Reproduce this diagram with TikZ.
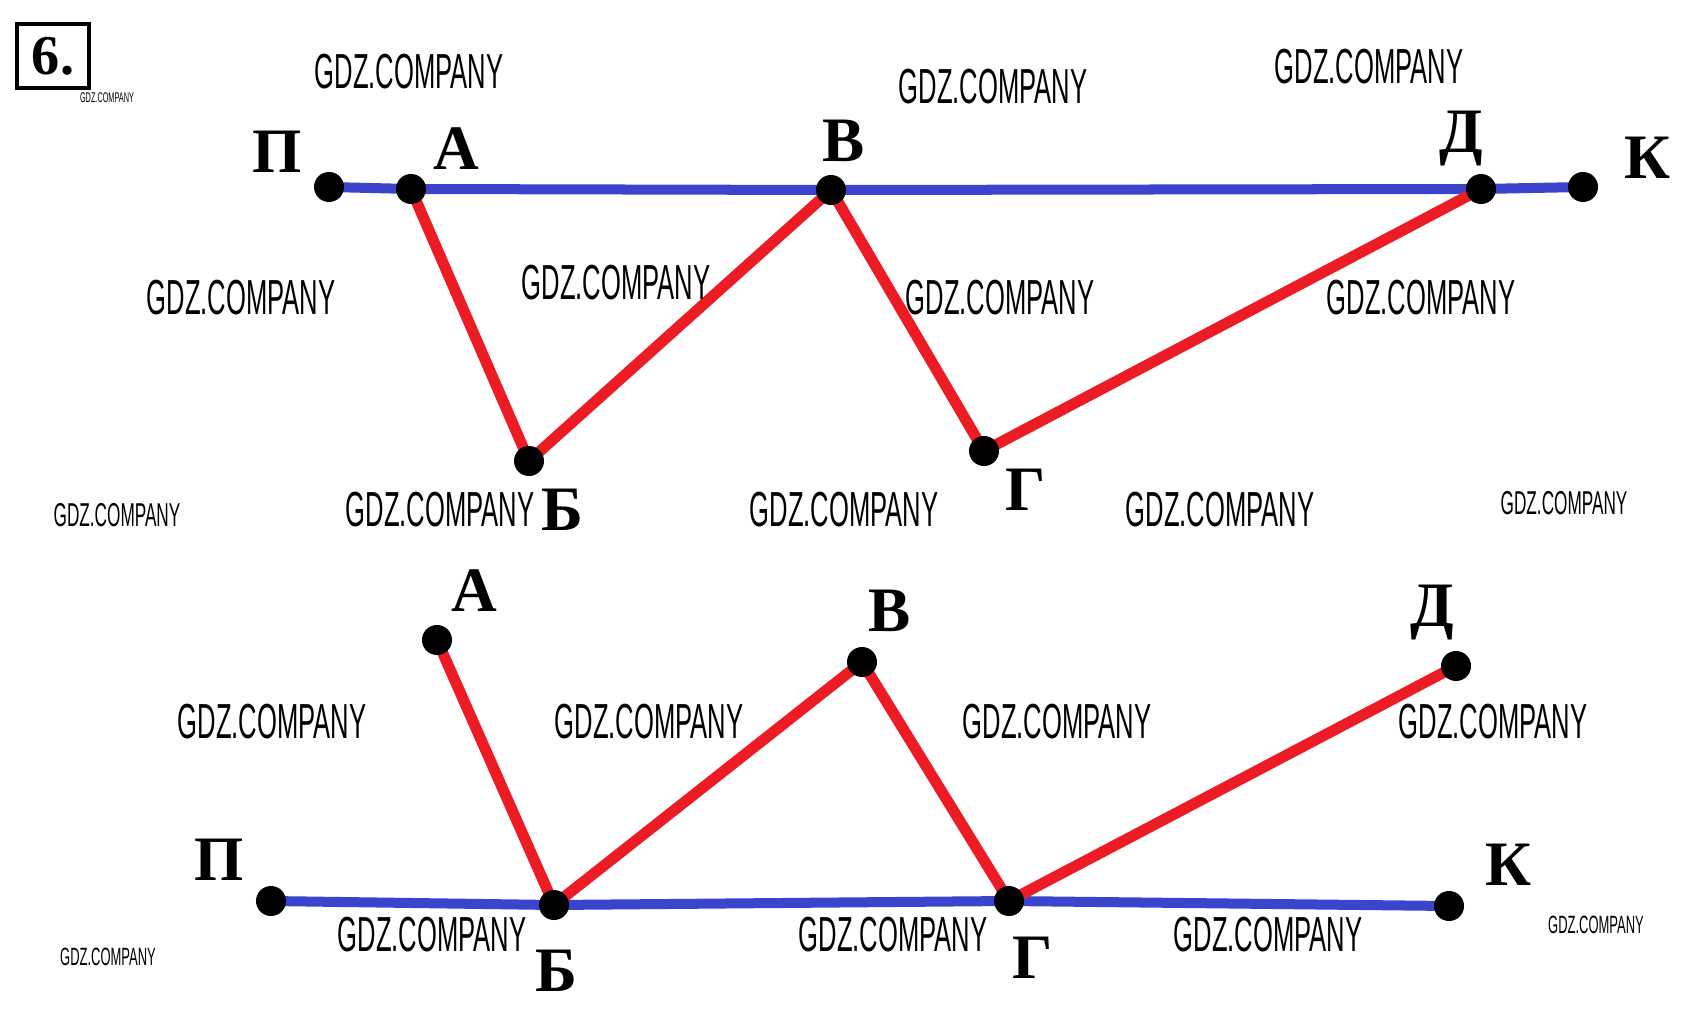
\documentclass[tikz,border=0pt]{standalone}
\usepackage{fontspec}
\setmainfont{Liberation Serif}
\newfontfamily\wmfont[FakeStretch=0.52]{Liberation Sans}
\usetikzlibrary{positioning}
\definecolor{roadblue}{RGB}{59,68,204}
\definecolor{wayred}{RGB}{237,28,36}
\pgfdeclarelayer{background}
\pgfsetlayers{background,main}

\begin{document}
\begin{tikzpicture}[
  x=0.01cm, y=-0.01cm,
  dot/.style={circle, fill=black, inner sep=0pt, minimum size=0.3cm},
  lbl/.style={font=\fontsize{18}{20}\selectfont\bfseries, inner sep=0pt},
  road/.style={roadblue, line width=0.1cm},
  way/.style={wayred, line width=0.11cm, line cap=round},
  wm/.style={font=\wmfont\fontsize{#1}{#1}\selectfont, inner sep=0pt},
  wm/.default=14
]
\useasboundingbox (0,0) rectangle (1701,1019);

% --- task number ---
\node[draw, line width=0.04cm, minimum width=0.72cm, minimum height=0.63cm,
      font=\fontsize{16}{16}\selectfont\bfseries] (num) at (53,56) {6.};

% --- watermarks ---
\node[wm=4] at (107,98) {GDZ.COMPANY};
\node[wm] at (409,72) {GDZ.COMPANY};
\node[wm] at (993,87) {GDZ.COMPANY};
\node[wm] at (1369,67) {GDZ.COMPANY};
\node[wm] at (241,298) {GDZ.COMPANY};
\node[wm] at (616,283) {GDZ.COMPANY};
\node[wm] at (1000,298) {GDZ.COMPANY};
\node[wm] at (1421,298) {GDZ.COMPANY};
\node[wm=9.4] at (117,515) {GDZ.COMPANY};
\node[wm] at (440,510) {GDZ.COMPANY};
\node[wm] at (844,510) {GDZ.COMPANY};
\node[wm] at (1220,510) {GDZ.COMPANY};
\node[wm=9.4] at (1564,503) {GDZ.COMPANY};
\node[wm] at (272,722) {GDZ.COMPANY};
\node[wm] at (649,722) {GDZ.COMPANY};
\node[wm] at (1057,722) {GDZ.COMPANY};
\node[wm] at (1493,722) {GDZ.COMPANY};
\node[wm] at (432,935) {GDZ.COMPANY};
\node[wm] at (893,935) {GDZ.COMPANY};
\node[wm] at (1268,935) {GDZ.COMPANY};
\node[wm=7.1] at (108,957) {GDZ.COMPANY};
\node[wm=7.1] at (1596,925) {GDZ.COMPANY};

% --- top scheme: points ---
\node[dot] (tP) at (329,187) {};
\node[dot] (tA) at (411,189) {};
\node[dot] (tV) at (831,190) {};
\node[dot] (tD) at (1481,189) {};
\node[dot] (tK) at (1583,187) {};
\node[dot] (tB) at (529,461) {};
\node[dot] (tG) at (984,451) {};

\node[lbl] at (277,152) {П};
\node[lbl] at (456,149) {А};
\node[lbl] at (844,141) {В};
\node[lbl] at (1461,139) {Д};
\node[lbl] at (1647,158) {К};
\node[lbl] at (562,510) {Б};
\node[lbl] at (1026,490) {Г};

% --- bottom scheme: points ---
\node[dot] (bA) at (437,640) {};
\node[dot] (bV) at (862,662) {};
\node[dot] (bD) at (1456,666) {};
\node[dot] (bP) at (271,901) {};
\node[dot] (bB) at (554,905) {};
\node[dot] (bG) at (1009,901) {};
\node[dot] (bK) at (1449,906) {};

\node[lbl] at (474,591) {А};
\node[lbl] at (890,611) {В};
\node[lbl] at (1432,613) {Д};
\node[lbl] at (219,860) {П};
\node[lbl] at (556,971) {Б};
\node[lbl] at (1033,958) {Г};
\node[lbl] at (1508,865) {К};

% --- roads and ways, under the points ---
\begin{pgfonlayer}{background}
  \draw[road] (tP.center) -- (tA.center) -- (tV.center) -- (tD.center) -- (tK.center);
  \draw[way] (tA.center) -- (tB.center) -- (tV.center) -- (tG.center) -- (tD.center);
  \draw[road] (bP.center) -- (bB.center) -- (bG.center) -- (bK.center);
  \draw[way] (bA.center) -- (bB.center) -- (bV.center) -- (bG.center) -- (bD.center);
\end{pgfonlayer}

\end{tikzpicture}
\end{document}
